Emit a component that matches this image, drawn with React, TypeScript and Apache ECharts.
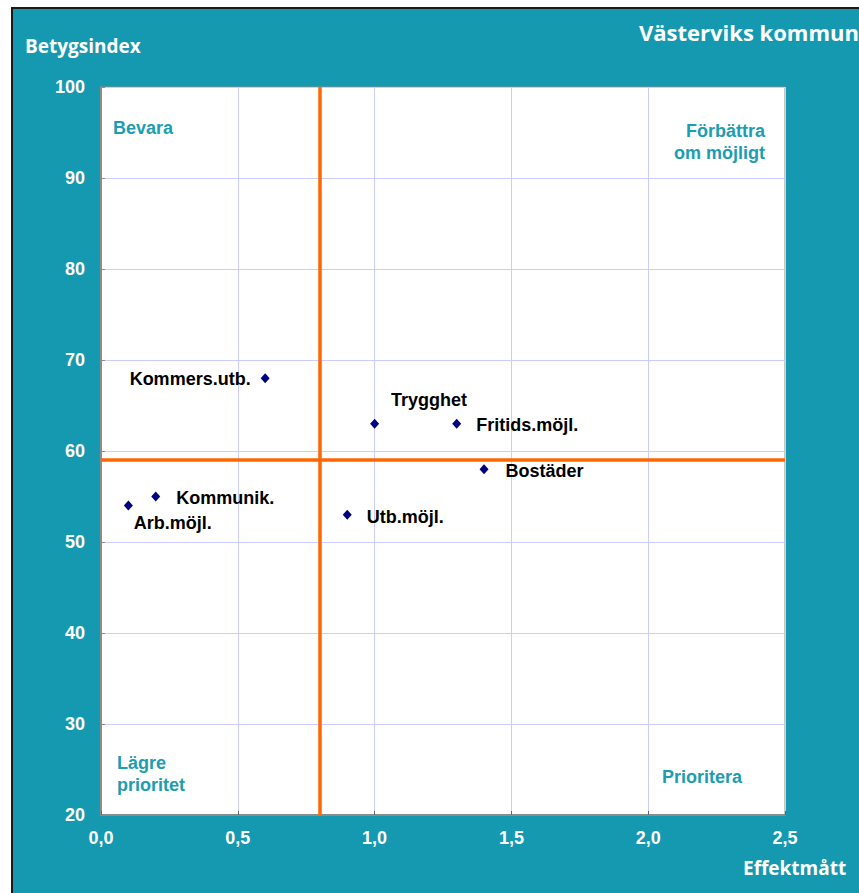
import React, { useEffect, useRef } from "react";
import * as echarts from "echarts";

const pointNames = ["Kommers.utb.", "Trygghet", "Fritids.möjl.", "Bostäder", "Utb.möjl.", "Kommunik.", "Arb.möjl."];
const effektValues = [0.6, 1.0, 1.3, 1.4, 0.9, 0.2, 0.1];
const betygValues = [68, 63, 63, 58, 53, 55, 54];
const xTicks = { min: 0, max: 2.5, interval: 0.5 };
const yTicks = { min: 20, max: 100, interval: 10 };
const xDivider = 0.8;
const yDivider = 59;

const TEAL = "#1499b0";
const QTEAL = "#1b9db3";
const FONT = "'Liberation Sans', Arial, sans-serif";

const labelPlacement: Record<string, any> = {
  "Kommers.utb.": { position: "left", offset: [-5, 1] },
  Trygghet: { position: "right", offset: [7, -24] },
  "Fritids.möjl.": { position: "right", offset: [10, 1] },
  Bostäder: { position: "right", offset: [12, 2] },
  "Utb.möjl.": { position: "right", offset: [10, 2] },
  "Kommunik.": { position: "right", offset: [11, 1] },
  "Arb.möjl.": { position: "right", offset: [-4, 17] },
};

export default function App() {
  const ref = useRef<HTMLDivElement>(null);
  useEffect(() => {
    document.body.style.margin = "0";
    const chart = echarts.init(ref.current!, null, { renderer: "svg" });
    const data = pointNames.map((n, i) => ({
      name: n,
      value: [effektValues[i], betygValues[i]],
      label: {
        show: true,
        distance: 5,
        ...labelPlacement[n],
      },
    }));
    const qText = (x: number, y: number, text: string, align: string = "left") => ({
      type: "text",
      x,
      y,
      style: {
        text,
        fill: QTEAL,
        font: `bold 18px ${FONT}`,
        align,
        verticalAlign: "middle",
        lineHeight: 22,
      },
      z: 10,
    });
    chart.setOption({
      animation: false,
      graphic: [
        {
          type: "rect",
          shape: { x: 12, y: 8, width: 860, height: 900 },
          style: { fill: TEAL, stroke: "#1a1a1a", lineWidth: 2 },
          z: -10,
          silent: true,
        },
        {
          type: "text",
          x: 639,
          y: 32,
          style: {
            text: "Västerviks kommun",
            fill: "#ffffff",
            font: "bold 22px 'Open Sans', sans-serif",
            verticalAlign: "middle",
          },
        },
        {
          type: "text",
          x: 25,
          y: 46,
          style: {
            text: "Betygsindex",
            fill: "#ffffff",
            font: "bold 19px 'Open Sans', sans-serif",
            verticalAlign: "middle",
          },
        },
        {
          type: "text",
          x: 743,
          y: 868,
          style: {
            text: "Effektmått",
            fill: "#ffffff",
            font: "bold 19px 'Open Sans', sans-serif",
            verticalAlign: "middle",
          },
        },
        qText(113, 128, "Bevara"),
        qText(765, 142, "Förbättra\nom möjligt", "right"),
        qText(117, 774, "Lägre\nprioritet"),
        qText(662, 777, "Prioritera"),
      ],
      grid: {
        left: 101,
        top: 87,
        right: 74,
        bottom: 78,
        show: true,
        backgroundColor: "#ffffff",
        borderColor: "#8c8c8c",
        borderWidth: 1,
      },
      xAxis: {
        type: "value",
        min: xTicks.min,
        max: xTicks.max,
        interval: xTicks.interval,
        axisLine: { show: true, onZero: false, lineStyle: { color: "#8c8c8c", width: 2 } },
        axisTick: { show: true, inside: true, length: 4, lineStyle: { color: "#666" } },
        splitLine: { show: true, lineStyle: { color: "#ccccff", width: 1 } },
        axisLabel: {
          color: "#ffffff",
          fontWeight: "bold",
          fontSize: 18,
          fontFamily: FONT,
          margin: 14,
          formatter: (v: number) => v.toFixed(1).replace(".", ","),
        },
      },
      yAxis: {
        type: "value",
        min: yTicks.min,
        max: yTicks.max,
        interval: yTicks.interval,
        axisLine: { show: true, onZero: false, lineStyle: { color: "#8c8c8c", width: 2 } },
        axisTick: { show: true, inside: true, length: 4, lineStyle: { color: "#8c8c8c" } },
        splitLine: { show: true, lineStyle: { color: "#ccccff", width: 1 } },
        axisLabel: {
          color: "#ffffff",
          fontWeight: "bold",
          fontSize: 18,
          fontFamily: FONT,
          margin: 16,
        },
      },
      series: [
        {
          type: "scatter",
          symbol: "diamond",
          symbolSize: [9, 10],
          itemStyle: { color: "#000080", opacity: 1 },
          label: {
            color: "#000000",
            fontWeight: "bold",
            fontSize: 18,
            fontFamily: FONT,
            formatter: "{b}",
          },
          data,
          markLine: {
            silent: true,
            symbol: "none",
            label: { show: false },
            lineStyle: { color: "#ff6600", width: 3.5, type: "solid", opacity: 1 },
            data: [{ xAxis: xDivider }, { yAxis: yDivider }],
          },
          z: 5,
        },
      ],
    });
    return () => chart.dispose();
  }, []);
  return <div ref={ref} style={{ width: 859, height: 893 }} />;
}
